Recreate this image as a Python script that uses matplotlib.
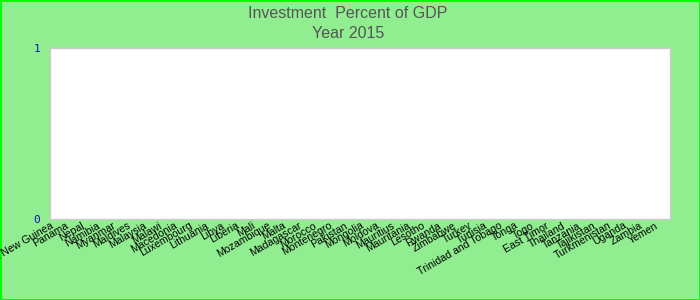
import numpy as np
import matplotlib.pyplot as plt

countries = ['Papua New Guinea', 'Panama', 'Nepal', 'Namibia', 'Myanmar', 'Maldives',
             'Malaysia', 'Malawi', 'Macedonia', 'Luxembourg', 'Lithuania', 'Libya',
             'Liberia', 'Mali', 'Mozambique', 'Malta', 'Madagascar', 'Morocco',
             'Montenegro', 'Pakistan', 'Mongolia', 'Moldova', 'Mauritius', 'Mauritania',
             'Lesotho', 'Rwanda', 'Zimbabwe', 'Turkey', 'Tunisia', 'Trinidad and Tobago',
             'Tonga', 'Togo', 'East Timor', 'Thailand', 'Tanzania', 'Tajikistan',
             'Turkmenistan', 'Uganda', 'Zambia', 'Yemen']
# no values are shown for 2015
invest_pct = [np.nan] * len(countries)
yticks = [0, 1]

fig = plt.figure(figsize=(7, 3), dpi=100, facecolor='#90ee90',
                 edgecolor='#00ff00', linewidth=2)
ax = fig.add_axes([50 / 700, 81 / 300, 620 / 700, 171 / 300])
ax.set_facecolor('white')

x = np.arange(len(countries))
ax.bar(x, invest_pct, width=0.6, align='edge', color='#4472c4')

ax.set_xlim(0, len(countries))
ax.set_ylim(0, 1)
ax.set_xticks(x)
ax.set_xticklabels(countries, rotation=30, ha='right', va='top',
                   rotation_mode='anchor', fontsize=7.6, family='Liberation Sans')
ax.set_yticks(yticks)
ax.set_yticklabels([str(v) for v in yticks], color='#1414a8', fontsize=8,
                   family='DejaVu Sans Mono')
ax.tick_params(axis='both', length=0)
ax.tick_params(axis='x', pad=1)
ax.tick_params(axis='y', pad=7)
for s in ax.spines.values():
    s.set_color('#cccccc')
    s.set_linewidth(1)

fig.text(0.497, 1 - 14 / 300, 'Investment  Percent of GDP', ha='center', va='center',
         fontsize=11.5, color='#555555', family='Liberation Sans')
fig.text(0.497, 1 - 33.5 / 300, 'Year 2015', ha='center', va='center',
         fontsize=11.5, color='#555555', family='Liberation Sans')

fig.savefig('out.png', dpi=100, facecolor=fig.get_facecolor(), edgecolor=fig.get_edgecolor())
